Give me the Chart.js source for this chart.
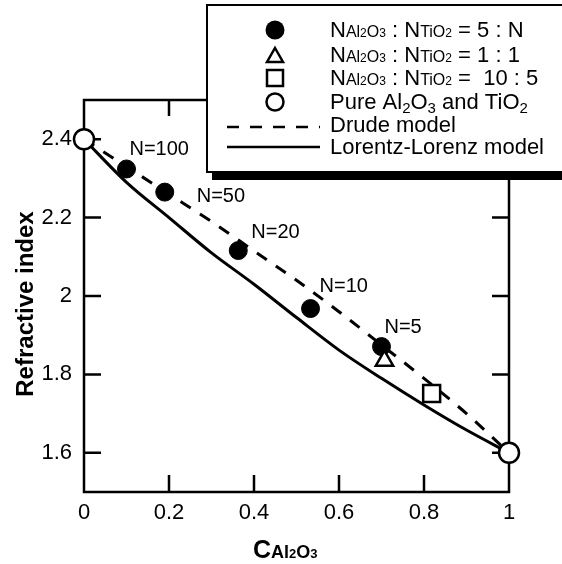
<!DOCTYPE html>
<html>
<head>
<meta charset="utf-8">
<script src="https://cdn.jsdelivr.net/npm/chart.js@4/dist/chart.umd.min.js"></script>
<style>
  body { margin: 0; background: #fff; }
  #wrap { width: 562px; height: 564px; }
</style>
</head>
<body>
<div id="wrap"><canvas id="chart"></canvas></div>
<script>
// values
const xTicks = [0, 0.2, 0.4, 0.6, 0.8, 1];
const xTickLabels = ['0', '0.2', '0.4', '0.6', '0.8', '1'];
const yTicks = [1.6, 1.8, 2.0, 2.2, 2.4];
const yTickLabels = ['1.6', '1.8', '2', '2.2', '2.4'];

const ratioX = [0.10, 0.19, 0.363, 0.533, 0.70];     // 5 : N
const ratioY = [2.324, 2.265, 2.116, 1.968, 1.871];
const ratioLabels = ['N=100', 'N=50', 'N=20', 'N=10', 'N=5'];

const oneOneX = [0.707];
const oneOneY = [1.835];
const tenFiveX = [0.818];
const tenFiveY = [1.751];
const pureX = [0, 1];
const pureY = [2.4, 1.6];

const modelX = [0, 0.1, 0.2, 0.3, 0.4, 0.5, 0.6, 0.7, 0.8, 0.9, 1];
const drudeY = [2.40, 2.33, 2.26, 2.19, 2.115, 2.04, 1.96, 1.875, 1.79, 1.70, 1.60];
const lorentzY = [2.40, 2.29, 2.20, 2.11, 2.03, 1.945, 1.862, 1.79, 1.722, 1.658, 1.60];

// where each N= label sits relative to its point
const labelOffsets = [[3, -20], [32, 4], [13, -18], [9, -22], [3, -19]];

const FONT = '"Liberation Sans", Arial, Helvetica, sans-serif';

function pts(xs, ys) {
    return xs.map((x, i) => ({ x: x, y: ys[i] }));
}

// draws a row of text pieces with different sizes / offsets
function drawPieces(ctx, x, y, pieces, bold) {
    pieces.forEach(p => {
        ctx.font = (bold ? 'bold ' : '') + p[1] + 'px ' + FONT;
        ctx.fillText(p[0], x, y + (p[2] || 0));
        x += ctx.measureText(p[0]).width;
    });
    return x;
}

const framePlugin = {
    id: 'frame',
    beforeDatasetsDraw(chart) {
        const ctx = chart.ctx;
        const a = chart.chartArea;
        const xs = chart.scales.x, ys = chart.scales.y;
        ctx.save();
        ctx.strokeStyle = '#000';
        ctx.lineWidth = 2.5;
        ctx.strokeRect(a.left, a.top, a.right - a.left, a.bottom - a.top);
        ctx.beginPath();
        yTicks.forEach(v => {
            const py = ys.getPixelForValue(v);
            ctx.moveTo(a.left, py); ctx.lineTo(a.left + 17, py);
            ctx.moveTo(a.right, py); ctx.lineTo(a.right - 17, py);
        });
        xTicks.slice(1, -1).forEach(v => {
            const px = xs.getPixelForValue(v);
            ctx.moveTo(px, a.bottom); ctx.lineTo(px, a.bottom - 17);
            ctx.moveTo(px, a.top); ctx.lineTo(px, a.top + 16);
        });
        ctx.stroke();
        ctx.restore();
    },
    afterDraw(chart) {
        const ctx = chart.ctx;
        const xs = chart.scales.x, ys = chart.scales.y;
        ctx.save();
        ctx.fillStyle = '#000';
        ctx.textBaseline = 'middle';
        ctx.font = '20px ' + FONT;
        ratioLabels.forEach((t, i) => {
            const px = xs.getPixelForValue(ratioX[i]) + labelOffsets[i][0];
            const py = ys.getPixelForValue(ratioY[i]) + labelOffsets[i][1];
            ctx.fillText(t, px, py);
        });

        // axis titles
        ctx.textBaseline = 'alphabetic';
        drawPieces(ctx, 253, 558, [['C', 25], ['Al', 18], ['2', 13], ['O', 18], ['3', 13]], true);
        ctx.save();
        ctx.translate(33, 304);
        ctx.rotate(-Math.PI / 2);
        ctx.textAlign = 'center';
        ctx.font = 'bold 24px ' + FONT;
        ctx.fillText('Refractive index', 0, 0);
        ctx.restore();

        // legend box with shadow
        ctx.fillStyle = '#000';
        ctx.fillRect(212, 12, 360, 168);
        ctx.fillStyle = '#fff';
        ctx.fillRect(207, 5, 360, 167);
        ctx.strokeStyle = '#000';
        ctx.lineWidth = 2;
        ctx.strokeRect(207, 5, 360, 167);

        const mx = 275;
        ctx.lineWidth = 2.5;
        ctx.fillStyle = '#000';
        ctx.beginPath(); ctx.arc(mx, 30, 9.5, 0, Math.PI * 2); ctx.fill();
        ctx.beginPath();
        ctx.moveTo(mx, 48); ctx.lineTo(mx + 8, 62); ctx.lineTo(mx - 8, 62); ctx.closePath();
        ctx.stroke();
        ctx.strokeRect(mx - 8, 70, 16, 16);
        ctx.beginPath(); ctx.arc(mx, 102, 8.5, 0, Math.PI * 2); ctx.stroke();
        ctx.lineWidth = 2.5;
        ctx.setLineDash([12, 11]);
        ctx.beginPath(); ctx.moveTo(227, 127); ctx.lineTo(320, 127); ctx.stroke();
        ctx.setLineDash([]);
        ctx.beginPath(); ctx.moveTo(227, 147); ctx.lineTo(320, 147); ctx.stroke();

        ctx.fillStyle = '#000';
        const tx = 330;
        const ratioHead = [['N', 22], ['Al', 16], ['2', 12], ['O', 16], ['3', 12], [' : ', 22],
                           ['N', 22], ['TiO', 16], ['2', 12]];
        drawPieces(ctx, tx, 37, ratioHead.concat([[' = 5 : N', 22]]));
        drawPieces(ctx, tx, 62, ratioHead.concat([[' = 1 : 1', 22]]));
        drawPieces(ctx, tx, 85, ratioHead.concat([[' =  10 : 5', 22]]));
        drawPieces(ctx, tx, 109, [['Pure Al', 22], ['2', 15, 4], ['O', 22], ['3', 15, 4],
                                  [' and TiO', 22], ['2', 15, 4]]);
        drawPieces(ctx, tx, 132, [['Drude model', 22]]);
        drawPieces(ctx, tx, 154, [['Lorentz-Lorenz model', 22]]);
        ctx.restore();
    }
};

const ctx = document.getElementById('chart').getContext('2d');

new Chart(ctx, {
    type: 'scatter',
    data: {
        datasets: [
            {
                label: 'Pure Al2O3 and TiO2',
                data: pts(pureX, pureY),
                pointStyle: 'circle',
                pointRadius: 10,
                pointBackgroundColor: '#fff',
                pointBorderColor: '#000',
                pointBorderWidth: 2.5,
                clip: false
            },
            {
                label: '10 : 5',
                data: pts(tenFiveX, tenFiveY),
                pointStyle: 'rect',
                pointRadius: 12,
                pointBackgroundColor: '#fff',
                pointBorderColor: '#000',
                pointBorderWidth: 2.5,
                clip: false
            },
            {
                label: '1 : 1',
                data: pts(oneOneX, oneOneY),
                pointStyle: 'triangle',
                pointRadius: 10,
                pointBackgroundColor: '#fff',
                pointBorderColor: '#000',
                pointBorderWidth: 2.5,
                clip: false
            },
            {
                label: '5 : N',
                data: pts(ratioX, ratioY),
                pointStyle: 'circle',
                pointRadius: 9,
                pointBackgroundColor: '#000',
                pointBorderColor: '#000',
                pointBorderWidth: 1,
                clip: false
            },
            {
                label: 'Drude model',
                data: pts(modelX, drudeY),
                showLine: true,
                borderColor: '#000',
                borderWidth: 3,
                borderDash: [12, 11],
                cubicInterpolationMode: 'monotone',
                pointRadius: 0,
                clip: false
            },
            {
                label: 'Lorentz-Lorenz model',
                data: pts(modelX, lorentzY),
                showLine: true,
                borderColor: '#000',
                borderWidth: 3,
                cubicInterpolationMode: 'monotone',
                pointRadius: 0,
                clip: false
            }
        ]
    },
    options: {
        responsive: true,
        maintainAspectRatio: false,
        animation: false,
        layout: { padding: { left: 0, right: 53, top: 100, bottom: 0 } },
        plugins: {
            legend: { display: false },
            tooltip: { enabled: false }
        },
        scales: {
            x: {
                type: 'linear',
                min: 0,
                max: 1,
                grid: { display: false, drawTicks: false },
                border: { display: false },
                afterBuildTicks: s => { s.ticks = xTicks.map(v => ({ value: v })); },
                afterFit: s => { s.height = 72; },
                ticks: {
                    color: '#000',
                    padding: 8,
                    maxRotation: 0,
                    font: { family: FONT, size: 22 },
                    callback: v => xTickLabels[xTicks.indexOf(v)]
                }
            },
            y: {
                type: 'linear',
                min: 1.5,
                max: 2.5,
                grid: { display: false, drawTicks: false },
                border: { display: false },
                afterBuildTicks: s => { s.ticks = yTicks.map(v => ({ value: v })); },
                afterFit: s => { s.width = 84; },
                ticks: {
                    color: '#000',
                    padding: 12,
                    font: { family: FONT, size: 22 },
                    callback: v => yTickLabels[yTicks.indexOf(v)]
                }
            }
        }
    },
    plugins: [framePlugin]
});
</script>
</body>
</html>
